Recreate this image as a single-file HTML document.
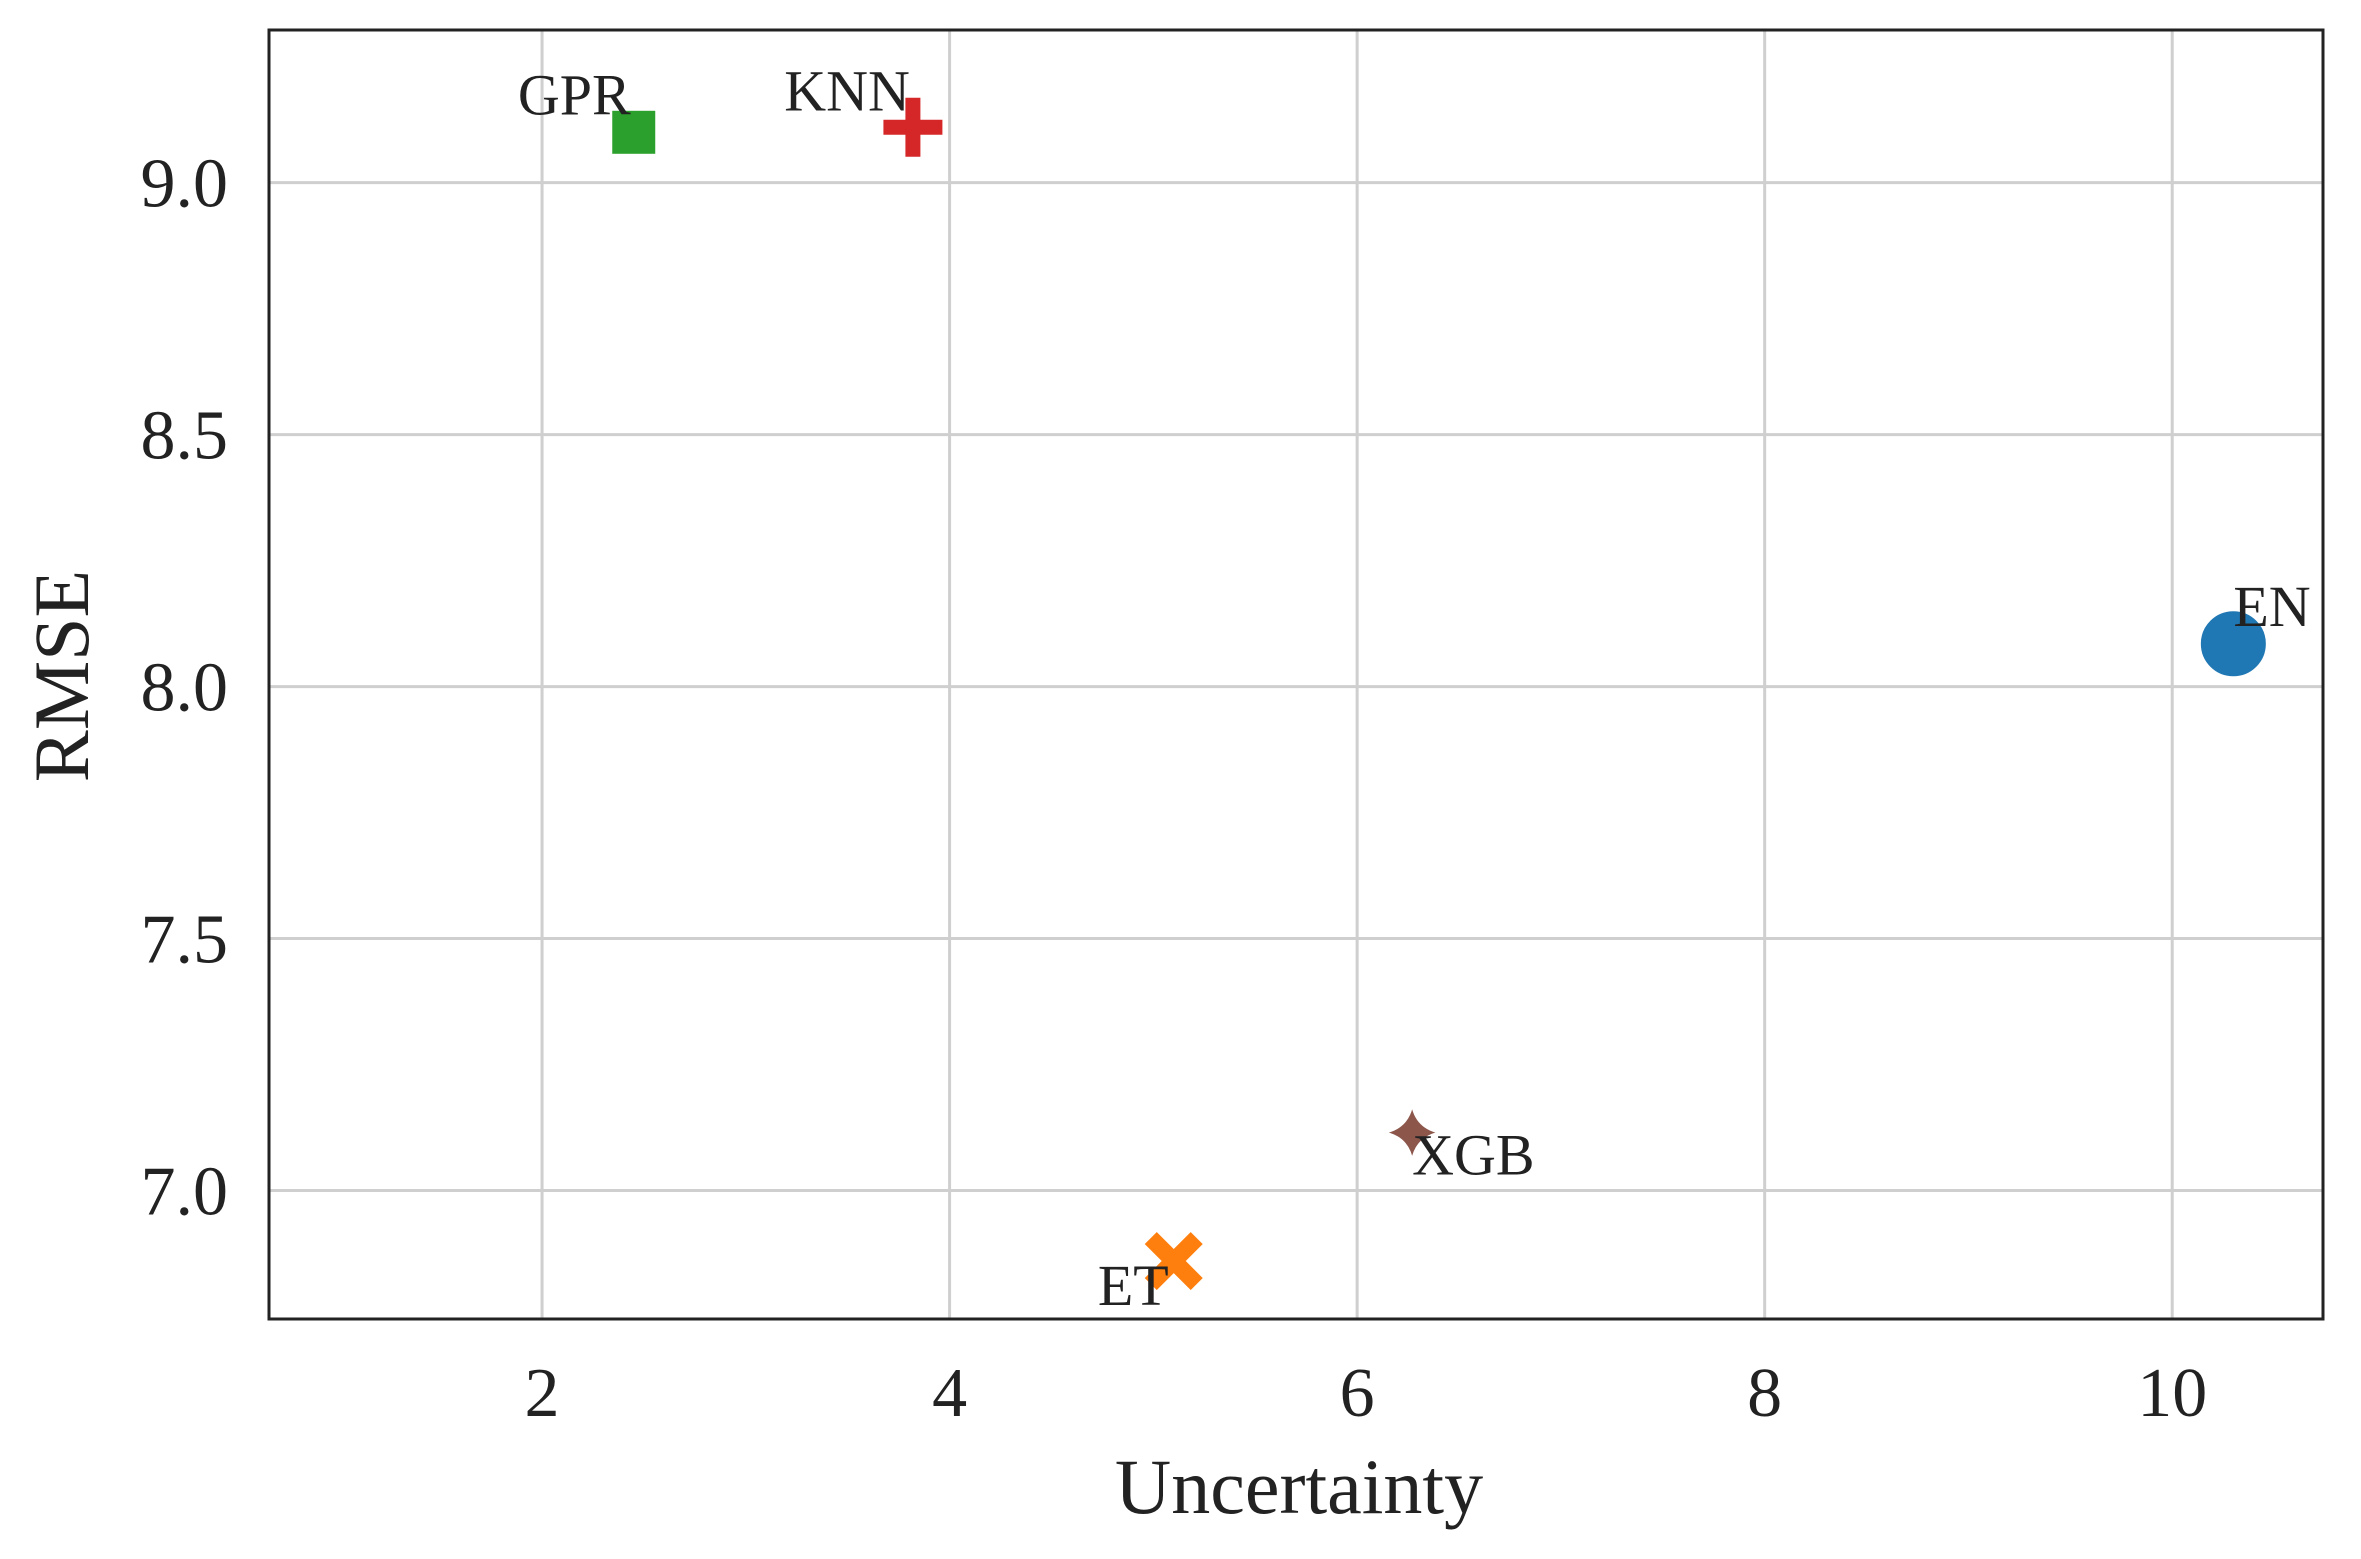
<!DOCTYPE html>
<html><head><meta charset="utf-8"><style>
body{margin:0;background:#fff}
svg{display:block}
text{font-family:"Liberation Serif",serif;fill:#222}
</style></head><body>
<svg id="chart" width="2361" height="1559" viewBox="0 0 2361 1559" xmlns="http://www.w3.org/2000/svg">
<g id="grid"></g>
<g id="marks"></g>
<rect x="269" y="30" width="2054" height="1289" fill="none" stroke="#222" stroke-width="3"/>
<g id="ticks"></g>
<text x="1299" y="1513" font-size="78" text-anchor="middle">Uncertainty</text>
<text transform="translate(88,676) rotate(-90)" font-size="78" text-anchor="middle">RMSE</text>
</svg>
<script>
const models=["EN","ET","GPR","KNN","XGB"];
const uncertainty=[10.3,5.1,2.45,3.82,6.27];
const rmse=[8.085,6.86,9.10,9.11,7.115];
const xTicks=[2,4,6,8,10];
const yTicks=[7.0,7.5,8.0,8.5,9.0];
const L=269,R=2323,T=30,B=1319;
const xMin=0.66,xMax=10.74,yMin=6.745,yMax=9.303;
const sx=v=>L+(v-xMin)/(xMax-xMin)*(R-L);
const sy=v=>B-(v-yMin)/(yMax-yMin)*(B-T);
const NS="http://www.w3.org/2000/svg";
const grid=document.getElementById('grid'),ticks=document.getElementById('ticks'),marks=document.getElementById('marks');
function mk(t,a,p){const e=document.createElementNS(NS,t);for(const k in a)e.setAttribute(k,a[k]);p.appendChild(e);return e;}
xTicks.forEach(v=>{
 const g=mk('line',{x1:sx(v),x2:sx(v),y1:T,y2:B,stroke:'#cfcfcf','stroke-width':3},grid);
 
 
 const t=mk('text',{x:sx(v),y:1416,'font-size':70,'text-anchor':'middle'},ticks);t.textContent=v;
 
 
});
yTicks.forEach(v=>{
 const g=mk('line',{x1:L,x2:R,y1:sy(v),y2:sy(v),stroke:'#cfcfcf','stroke-width':3},grid);
 
 
 const t=mk('text',{x:228,y:sy(v)+24,'font-size':70,'text-anchor':'end'},ticks);t.textContent=v.toFixed(1);
 
 
});
const colors=["#1f77b4","#ff7f0e","#2ca02c","#d62728","#8c564b"];
const lab=[["start",0,-18],["end",-5,44],["end",-3,-18],["end",-3,-17],["start",0,42]];
models.forEach((m,i)=>{
 const x=sx(uncertainty[i]),y=sy(rmse[i]);let e;
 const st={fill:colors[i],stroke:'#fff','stroke-width':3};
 if(m==="EN")e=mk('circle',Object.assign({cx:x,cy:y,r:34},st),marks);
 else if(m==="GPR")e=mk('rect',Object.assign({x:x-23,y:y-23,width:46,height:46},st),marks);
 else if(m==="KNN"){const a=9,b=31;e=mk('path',Object.assign({d:`M${x-a},${y-b}h${2*a}v${b-a}h${b-a}v${2*a}h${-(b-a)}v${b-a}h${-2*a}v${-(b-a)}h${-(b-a)}v${-2*a}h${b-a}z`},st),marks);}
 else if(m==="ET"){const g=mk('g',{transform:`translate(${x},${y}) rotate(45)`},marks);const a=10,b=34;e=mk('path',Object.assign({d:`M${-a},${-b}h${2*a}v${b-a}h${b-a}v${2*a}h${-(b-a)}v${b-a}h${-2*a}v${-(b-a)}h${-(b-a)}v${-2*a}h${b-a}z`},st),g);}
 else {e=mk('path',Object.assign({d:`M${x},${y-30}Q${x+4},${y-4} ${x+30},${y}Q${x+4},${y+4} ${x},${y+30}Q${x-4},${y+4} ${x-30},${y}Q${x-4},${y-4} ${x},${y-30}z`},st),marks);}
 
 
 const t=mk('text',{x:x+lab[i][1],y:y+lab[i][2],'font-size':58,'text-anchor':lab[i][0],fill:'#111'},marks);t.textContent=m;
 
 
});
</script>
</body></html>
